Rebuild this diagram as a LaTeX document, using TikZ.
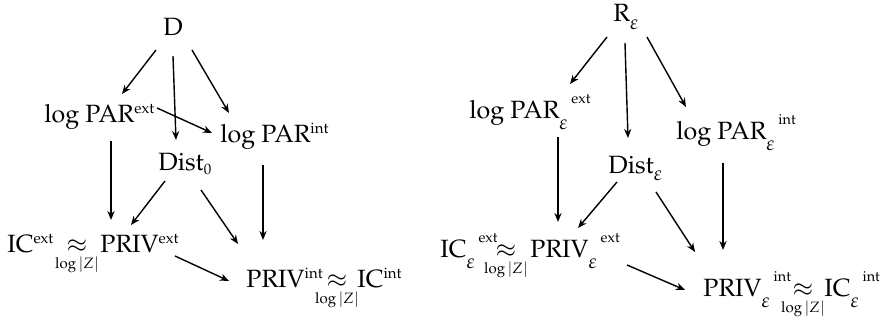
\documentclass[tikz,border=0pt]{standalone}
\usepackage[T1]{fontenc}
\usepackage{mathpazo}
\usepackage{amsmath}
\DeclareMathSizes{12.5}{12.5}{7.5}{6}
\usetikzlibrary{arrows.meta}
\newcommand{\approxlog}{$\underset{\log|Z|}{\approx}$}
\newcommand{\epsub}[1]{\raisebox{-#1}{\fontsize{10}{10}\selectfont$\varepsilon$}}
\newcommand{\epsup}[1]{\raisebox{-5.5pt}{\fontsize{10}{10}\selectfont$\varepsilon$}\hspace{2pt}\raisebox{7.5pt}{\fontsize{7.2}{8}\selectfont #1}}
\begin{document}
\begin{tikzpicture}[x=0.5pt,y=-0.5pt,
 term/.style={anchor=base west,inner sep=0pt,font=\fontsize{12.5}{15}\selectfont},
 rel/.style={anchor=base,inner sep=0pt,font=\fontsize{12.5}{15}\selectfont},
 arr/.style={-{Stealth[length=4.5pt,width=3.6pt]},line width=0.7pt}]
\useasboundingbox (0,0) rectangle (880,325);
% ---------- left diagram ----------
\node[term] (D) at (163,36) {D};
\node[term] (lpe) at (44,123) {log PAR$^{\mathrm{ext}}$};
\node[term] (lpi) at (220,143) {log PAR$^{\mathrm{int}}$};
\node[term] (dist) at (158,171) {Dist$_0$};
\node[term] (ice) at (7,253) {IC$^{\mathrm{ext}}$};
\node[rel] (ap1) at (77,253) {\approxlog};
\node[term] (pve) at (100,253) {PRIV$^{\mathrm{ext}}$};
\node[term] (pvi) at (246,288) {PRIV$^{\mathrm{int}}$};
\node[rel] (ap2) at (337,288) {\approxlog};
\node[term] (ici) at (357,288) {IC$^{\mathrm{int}}$};

\draw[arr] ([shift={(-7,14)}]D.base west) -- ([shift={(78,-29)}]lpe.base west);
\draw[arr] ([shift={(10,20)}]D.base west) -- ([shift={(18,-31)}]dist.base west);
\draw[arr] ([shift={(29,14)}]D.base west) -- ([shift={(9,-30)}]lpi.base west);
\draw[arr] ([shift={(113,-15)}]lpe.base west) -- ([shift={(-8,-10)}]lpi.base west);
\draw[arr] ([shift={(67,18)}]lpe.base west) -- ([shift={(11,-33)}]pve.base west);
\draw[arr] ([shift={(7,10)}]dist.base west) -- ([shift={(31,-28)}]pve.base west);
\draw[arr] ([shift={(43,19)}]dist.base west) -- ([shift={(-8,-44)}]pvi.base west);
\draw[arr] ([shift={(43,22)}]lpi.base west) -- ([shift={(17,-48)}]pvi.base west);
\draw[arr] ([shift={(75,3)}]pve.base west) -- ([shift={(-17,-7)}]pvi.base west);

% ---------- right diagram ----------
\node[term] (R) at (613,22) {R\epsub{4pt}};
\node[term] (rlpe) at (469,119) {log PAR\epsup{ext}};
\node[term] (rlpi) at (676,140) {log PAR\epsup{int}};
\node[term] (rdist) at (608,174) {Dist\epsub{3.5pt}};
\node[term] (rice) at (440,258) {IC\epsup{ext}};
\node[rel] (rap1) at (506,258) {\approxlog};
\node[term] (rpve) at (530,258) {PRIV\epsup{ext}};
\node[term] (rpvi) at (703,297) {PRIV\epsup{int}};
\node[rel] (rap2) at (803,297) {\approxlog};
\node[term] (rici) at (824,297) {IC\epsup{int}};

\draw[arr] ([shift={(-6,15)}]R.base west) -- ([shift={(101,-35)}]rlpe.base west);
\draw[arr] ([shift={(12,21)}]R.base west) -- ([shift={(20,-36)}]rdist.base west);
\draw[arr] ([shift={(34,15)}]R.base west) -- ([shift={(10,-33)}]rlpi.base west);
\draw[arr] ([shift={(89,18)}]rlpe.base west) -- ([shift={(28,-36)}]rpve.base west);
\draw[arr] ([shift={(9,8)}]rdist.base west) -- ([shift={(48,-30)}]rpve.base west);
\draw[arr] ([shift={(48,18)}]rdist.base west) -- ([shift={(-8,-45)}]rpvi.base west);
\draw[arr] ([shift={(47,23)}]rlpi.base west) -- ([shift={(20,-47)}]rpvi.base west);
\draw[arr] ([shift={(97,7)}]rpve.base west) -- ([shift={(-18,-7)}]rpvi.base west);
\end{tikzpicture}
\end{document}
